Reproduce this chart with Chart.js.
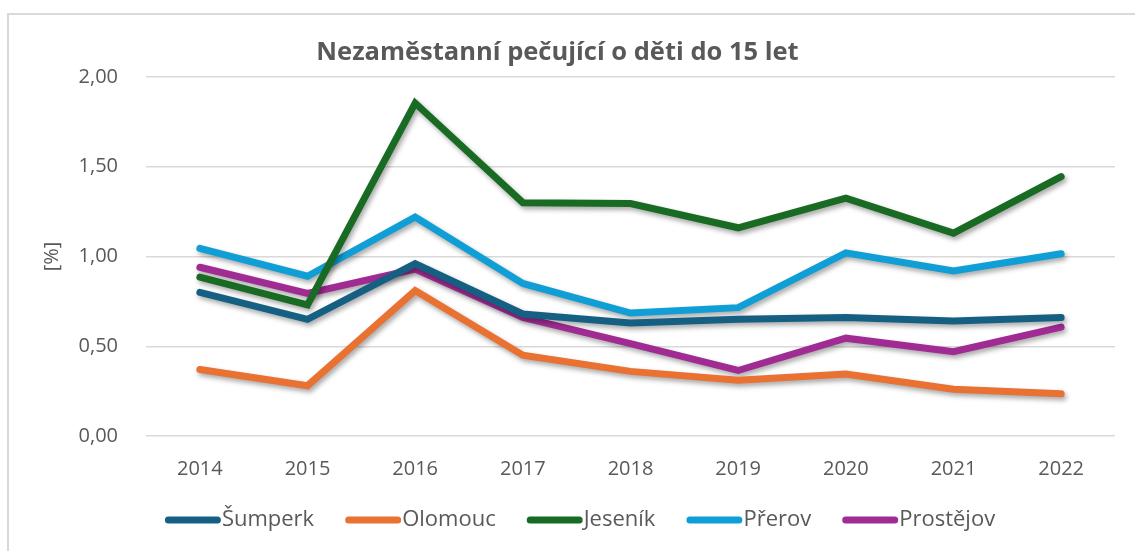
<!DOCTYPE html>
<html>
<head>
<meta charset="utf-8">
<script src="https://cdn.jsdelivr.net/npm/chart.js@4/dist/chart.umd.min.js"></script>
<style>
  html, body { margin: 0; padding: 0; background: #fff; overflow: hidden; }
  #frame { position: absolute; left: 7px; top: 13px; width: 1200px; height: 600px; border: 2px solid #d9d9d9; }
  #wrap { position: absolute; left: 0; top: 0; width: 1135px; height: 551px; }
</style>
</head>
<body>
<div id="frame"></div>
<div id="wrap"><canvas id="myChart" width="1135" height="551"></canvas></div>
<script>
const years = ['2014', '2015', '2016', '2017', '2018', '2019', '2020', '2021', '2022'];
const sumperk   = [0.80, 0.65, 0.96, 0.68, 0.63, 0.65, 0.66, 0.64, 0.66];
const olomouc   = [0.37, 0.28, 0.81, 0.45, 0.36, 0.31, 0.345, 0.26, 0.235];
const jesenik   = [0.885, 0.73, 1.855, 1.30, 1.295, 1.16, 1.325, 1.13, 1.445];
const prerov    = [1.045, 0.89, 1.22, 0.85, 0.685, 0.715, 1.02, 0.92, 1.015];
const prostejov = [0.94, 0.795, 0.93, 0.66, 0.515, 0.365, 0.545, 0.47, 0.607];
const yTicks = [0, 0.5, 1, 1.5, 2];

const txt = '#595959';
const fontFam = '"Open Sans", "Liberation Sans", sans-serif';

function ds(label, data, color) {
    return {
        label: label,
        data: data,
        borderColor: color,
        backgroundColor: color,
        borderWidth: 7,
        borderCapStyle: 'round',
        borderJoinStyle: 'miter',
        pointRadius: 0,
        pointHoverRadius: 0,
        tension: 0,
        fill: false
    };
}

// drop shadow under the lines, like in Excel
const shadow = {
    id: 'shadow',
    beforeDatasetsDraw(chart) {
        const ctx = chart.ctx;
        ctx.save();
        ctx.shadowColor = 'rgba(0,0,0,0.35)';
        ctx.shadowBlur = 5;
        ctx.shadowOffsetX = 2;
        ctx.shadowOffsetY = 3;
    },
    afterDatasetsDraw(chart) {
        chart.ctx.restore();
    }
};

// legend: line sample directly followed by text
const lineLegend = {
    id: 'lineLegend',
    afterDraw(chart) {
        const ctx = chart.ctx;
        const sets = chart.data.datasets;
        const sample = 56, gap = 31, y = 520;
        ctx.save();
        ctx.font = '22px ' + fontFam;
        let total = 0;
        const widths = sets.map(d => ctx.measureText(d.label).width);
        widths.forEach(w => total += sample + 1 + w);
        total += gap * (sets.length - 1);
        let x = 580 - total / 2;
        sets.forEach((d, i) => {
            ctx.strokeStyle = d.borderColor;
            ctx.lineWidth = 7;
            ctx.lineCap = 'round';
            ctx.beginPath();
            ctx.moveTo(x + 3.5, y);
            ctx.lineTo(x + sample - 3.5, y);
            ctx.stroke();
            ctx.fillStyle = txt;
            ctx.textBaseline = 'middle';
            ctx.textAlign = 'left';
            ctx.fillText(d.label, x + sample + 1, y);
            x += sample + 1 + widths[i] + gap;
        });
        ctx.restore();
    }
};

const ctx = document.getElementById('myChart').getContext('2d');
const myChart = new Chart(ctx, {
    type: 'line',
    data: {
        labels: years,
        datasets: [
            ds('Šumperk', sumperk, '#156082'),
            ds('Olomouc', olomouc, '#E97132'),
            ds('Jeseník', jesenik, '#196B24'),
            ds('Přerov', prerov, '#0F9ED5'),
            ds('Prostějov', prostejov, '#A02B93')
        ]
    },
    options: {
        responsive: false,
        animation: false,
        layout: { padding: { top: 0, right: 20, bottom: 0, left: 0 } },
        plugins: {
            legend: { display: false },
            tooltip: { enabled: false },
            title: {
                display: true,
                text: 'Nezaměstanní pečující o děti do 15 let',
                color: txt,
                font: { family: fontFam, size: 25.5, weight: 'bold' },
                padding: { top: 37, bottom: 9.4 }
            }
        },
        scales: {
            x: {
                offset: true,
                grid: { display: false },
                border: { display: false },
                ticks: { color: txt, font: { family: fontFam, size: 20 }, padding: 13 },
                afterFit(scale) { scale.height = 115; }
            },
            y: {
                min: 0,
                max: 2,
                afterBuildTicks(scale) { scale.ticks = yTicks.map(v => ({ value: v })); },
                grid: { color: '#d9d9d9', lineWidth: 1.5, drawTicks: false },
                border: { display: false },
                ticks: {
                    color: txt,
                    font: { family: fontFam, size: 20 },
                    padding: 28,
                    callback: v => v.toFixed(2).replace('.', ',')
                },
                title: {
                    display: true,
                    text: '[%]',
                    color: txt,
                    font: { family: fontFam, size: 20 },
                    padding: { top: 40, bottom: 0 }
                },
                afterFit(scale) { scale.width = 146; }
            }
        }
    },
    plugins: [shadow, lineLegend]
});
</script>
</body>
</html>
